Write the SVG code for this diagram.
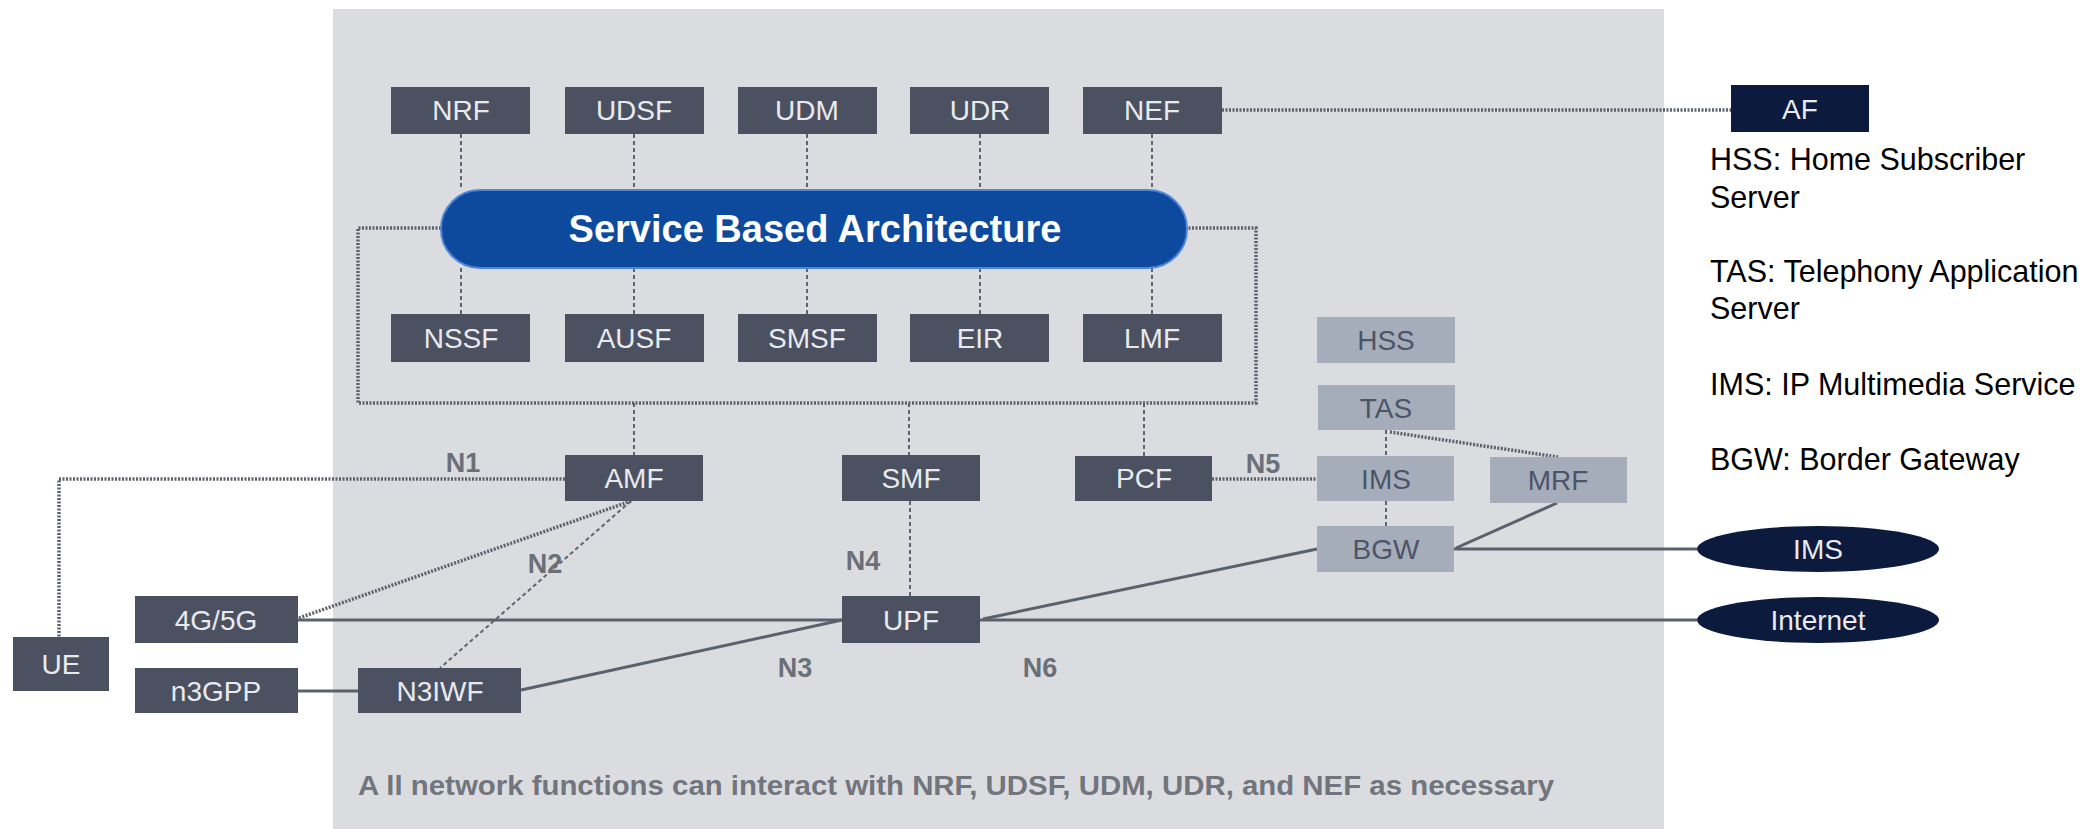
<svg xmlns="http://www.w3.org/2000/svg" width="2099" height="829" viewBox="0 0 2099 829">
<style>
.bx{fill:#4b5161}
.lb{fill:#a6adba}
.nv{fill:#0b1a3d}
.t{font-family:"Liberation Sans",Arial,sans-serif;font-size:28px;fill:#e8eaee;text-anchor:middle}
.tl{font-family:"Liberation Sans",Arial,sans-serif;font-size:28px;fill:#4c5467;text-anchor:middle}
.lab{font-family:"Liberation Sans",Arial,sans-serif;font-size:27px;font-weight:bold;fill:#6b6f78;text-anchor:middle}
.leg{font-family:"Liberation Sans",Arial,sans-serif;font-size:30.5px;fill:#000}
.dot{fill:none;stroke:#5c616c;stroke-width:3.5;stroke-dasharray:2 1.5}
.dash{fill:none;stroke:#5f6470;stroke-width:2;stroke-dasharray:4 3}
.sol{fill:none;stroke:#5a606c;stroke-width:3}
</style>
<rect x="0" y="0" width="2099" height="829" fill="#ffffff"/>
<rect id="panel" x="333" y="9" width="1331" height="820" fill="#dadcdf"/>
<g id="connectors">
<path class="dash" d="M461 134V190M634 134V190M807 134V190M980 134V190M1152 134V190"/>
<path class="dash" d="M461 268V314M634 268V314M807 268V314M980 268V314M1152 268V314"/>
<path class="dot" d="M441 228H358V403H1256V228H1187"/>
<path class="dash" d="M634 403V455M909 403V455M1144 403V456"/>
<path class="dot" d="M1222 110H1731"/>
<path class="dot" d="M565 479H59V637"/>
<path class="dot" d="M631 501L299 618"/>
<path class="dash" d="M631 501L440 668"/>
<path class="sol" d="M298 620H842"/>
<path class="sol" d="M298 691H358"/>
<path class="sol" d="M521 690L842 620"/>
<path class="dash" d="M910 501V596"/>
<path class="sol" d="M980 620H1697"/>
<path class="sol" d="M983 619L1317 549"/>
<path class="sol" d="M1454 549H1697"/>
<path class="sol" d="M1557 503L1456 548"/>
<path class="dash" d="M1386 430V456M1386 501V526"/>
<path class="dot" d="M1390 432L1558 457"/>
<path class="dot" d="M1212 479H1317"/>
</g>
<g id="sba"><rect x="441" y="190" width="746" height="78" rx="39" fill="#0d4a9e" stroke="#4f86d6" stroke-width="2"/><text x="815" y="242" font-family="Liberation Sans,Arial,sans-serif" font-size="38" font-weight="bold" fill="#fff" text-anchor="middle">Service Based Architecture</text></g>
<g id="nrf"><rect class="bx" x="391" y="87" width="139" height="47"/><text class="t" x="461" y="120">NRF</text></g>
<g id="udsf"><rect class="bx" x="565" y="87" width="139" height="47"/><text class="t" x="634" y="120">UDSF</text></g>
<g id="udm"><rect class="bx" x="738" y="87" width="139" height="47"/><text class="t" x="807" y="120">UDM</text></g>
<g id="udr"><rect class="bx" x="910" y="87" width="139" height="47"/><text class="t" x="980" y="120">UDR</text></g>
<g id="nef"><rect class="bx" x="1083" y="87" width="139" height="47"/><text class="t" x="1152" y="120">NEF</text></g>
<g id="nssf"><rect class="bx" x="391" y="314" width="139" height="48"/><text class="t" x="461" y="348">NSSF</text></g>
<g id="ausf"><rect class="bx" x="565" y="314" width="139" height="48"/><text class="t" x="634" y="348">AUSF</text></g>
<g id="smsf"><rect class="bx" x="738" y="314" width="139" height="48"/><text class="t" x="807" y="348">SMSF</text></g>
<g id="eir"><rect class="bx" x="910" y="314" width="139" height="48"/><text class="t" x="980" y="348">EIR</text></g>
<g id="lmf"><rect class="bx" x="1083" y="314" width="139" height="48"/><text class="t" x="1152" y="348">LMF</text></g>
<g id="amf"><rect class="bx" x="565" y="455" width="138" height="46"/><text class="t" x="634" y="488">AMF</text></g>
<g id="smf"><rect class="bx" x="842" y="455" width="138" height="46"/><text class="t" x="911" y="488">SMF</text></g>
<g id="pcf"><rect class="bx" x="1075" y="456" width="137" height="45"/><text class="t" x="1144" y="488">PCF</text></g>
<g id="upf"><rect class="bx" x="842" y="596" width="138" height="47"/><text class="t" x="911" y="630">UPF</text></g>
<g id="g45"><rect class="bx" x="135" y="596" width="163" height="47"/><text class="t" x="216" y="630">4G/5G</text></g>
<g id="n3gpp"><rect class="bx" x="135" y="668" width="163" height="45"/><text class="t" x="216" y="701">n3GPP</text></g>
<g id="n3iwf"><rect class="bx" x="358" y="668" width="163" height="45"/><text class="t" x="440" y="701">N3IWF</text></g>
<g id="ue"><rect class="bx" x="13" y="637" width="96" height="54"/><text class="t" x="61" y="674">UE</text></g>
<g id="hss"><rect class="lb" x="1317" y="317" width="138" height="46"/><text class="tl" x="1386" y="350">HSS</text></g>
<g id="tas"><rect class="lb" x="1318" y="385" width="137" height="45"/><text class="tl" x="1386" y="418">TAS</text></g>
<g id="ims"><rect class="lb" x="1317" y="456" width="137" height="45"/><text class="tl" x="1386" y="489">IMS</text></g>
<g id="mrf"><rect class="lb" x="1490" y="457" width="137" height="46"/><text class="tl" x="1558" y="490">MRF</text></g>
<g id="bgw"><rect class="lb" x="1317" y="526" width="137" height="46"/><text class="tl" x="1386" y="559">BGW</text></g>
<g id="af"><rect class="nv" x="1731" y="85" width="138" height="47"/><text class="t" x="1800" y="119" fill="#fff">AF</text></g>
<g id="imsnet"><ellipse class="nv" cx="1818" cy="549" rx="121" ry="23"/><text class="t" x="1818" y="559">IMS</text></g>
<g id="internet"><ellipse class="nv" cx="1818" cy="620" rx="121" ry="23"/><text class="t" x="1818" y="630">Internet</text></g>
<g id="labels">
<text class="lab" x="463" y="472">N1</text>
<text class="lab" x="545" y="573">N2</text>
<text class="lab" x="863" y="570">N4</text>
<text class="lab" x="795" y="677">N3</text>
<text class="lab" x="1040" y="677">N6</text>
<text class="lab" x="1263" y="473">N5</text>
</g>
<g id="legend">
<text class="leg" x="1710" y="170">HSS: Home Subscriber</text>
<text class="leg" x="1710" y="208">Server</text>
<text class="leg" x="1710" y="282">TAS: Telephony Application</text>
<text class="leg" x="1710" y="319">Server</text>
<text class="leg" x="1710" y="395">IMS: IP Multimedia Service</text>
<text class="leg" x="1710" y="470">BGW: Border Gateway</text>
</g>
<text id="note" x="358" y="795" font-family="Liberation Sans,Arial,sans-serif" font-size="27" font-weight="bold" fill="#72757d" textLength="1196" lengthAdjust="spacingAndGlyphs">A ll network functions can interact with NRF, UDSF, UDM, UDR, and NEF as necessary</text>
</svg>
